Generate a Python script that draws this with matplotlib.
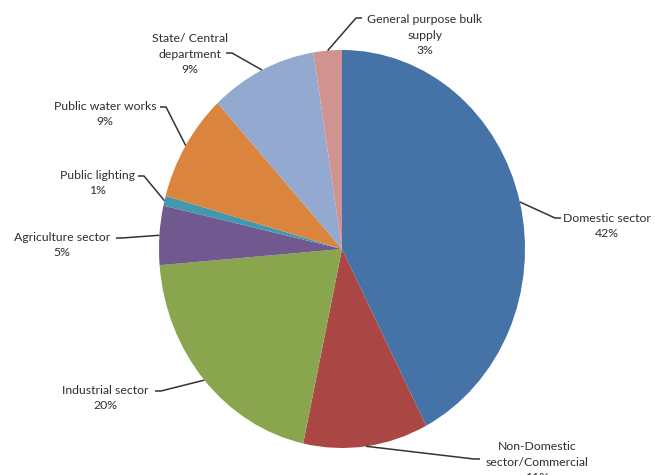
import matplotlib
matplotlib.use("Agg")
import matplotlib.pyplot as plt
import numpy as np

categories = ["Domestic sector", "Non-Domestic\nsector/Commercial", "Industrial sector",
              "Agriculture sector", "Public lighting", "Public water works",
              "State/ Central\ndepartment", "General purpose bulk\nsupply"]
values = [42.4, 11.0, 20.3, 4.8, 0.8, 8.8, 9.4, 2.5]
pct_labels = ["42%", "11%", "20%", "5%", "1%", "9%", "9%", "3%"]
colors = ["#4572A7", "#AA4643", "#89A54E", "#71588F", "#4198AF", "#DB843D", "#93A9CF", "#D19392"]

W, H = 659, 475
CX, CY, RX, RY = 342, 249, 183, 199

def px(x, y):
    return (x - CX) / RX, (CY - y) / RY

# label centre (px), anchor side point of leader (px)
label_pos = [(607, 226), (537, 462), (105, 398), (62, 245), (97, 183), (105, 114), (190, 54), (425, 35)]
anchor_pts = [(561, 218), (480, 459), (155, 391), (116, 238), (138, 176), (160, 107), (226, 53), (362, 18)]
hook = [-1, -1, 1, 1, 1, 1, 1, -1]

fig = plt.figure(figsize=(W / 100, H / 100), dpi=100)
ax = fig.add_axes([0, 0, 1, 1])

wedges, _ = ax.pie(values, colors=colors, startangle=90, counterclock=False,
                   radius=1.0, center=(0, 0), frame=True,
                   wedgeprops=dict(linewidth=0))
ax.set_aspect("auto")
ax.set_xlim(-CX / RX, (W - CX) / RX)
ax.set_ylim(-(H - CY) / RY, CY / RY)
ax.axis("off")

tc = "#2e2e2e"
for w, cat, pct, lp, ap, hk in zip(wedges, categories, pct_labels, label_pos, anchor_pts, hook):
    mid = np.deg2rad((w.theta1 + w.theta2) / 2)
    ex, ey = np.cos(mid), np.sin(mid)
    tx, ty = px(*lp)
    ax.text(tx, ty, cat + "\n" + pct, ha="center", va="center", fontsize=8.8,
            family=["Lato", "DejaVu Sans"], color=tc, linespacing=1.5)
    axp, ayp = px(*ap)
    hx = axp + hk * 6 / RX
    ax.plot([axp, hx, ex], [ayp, ayp, ey], color="#333333", lw=1.1, solid_capstyle="butt")

fig.savefig("out.png", dpi=100, facecolor="white")
